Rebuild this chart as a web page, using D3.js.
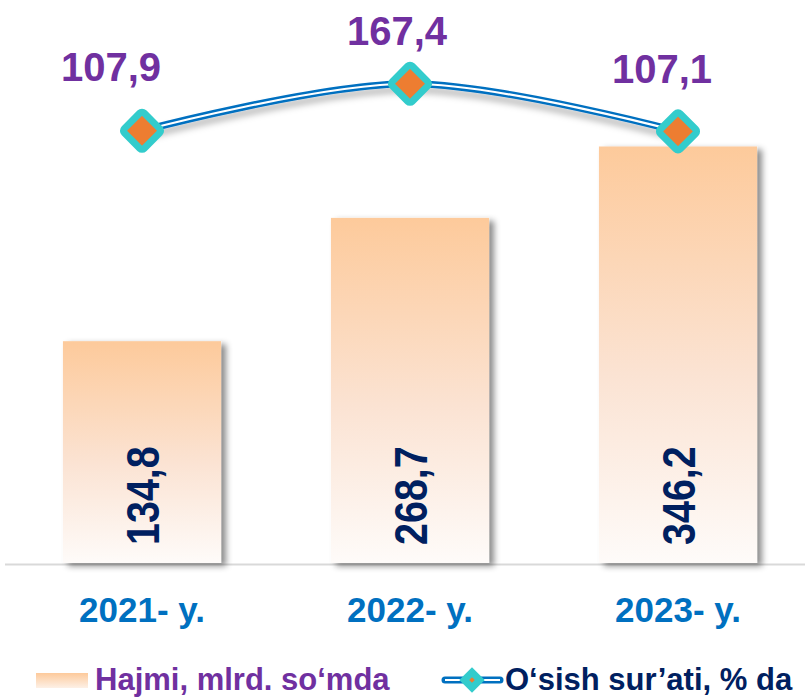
<!DOCTYPE html>
<html>
<head>
<meta charset="utf-8">
<script src="https://cdn.jsdelivr.net/npm/d3@7"></script>
<style>
  body { margin: 0; background: #fff; }
  svg { display: block; }
</style>
</head>
<body>
<script>
const categories = ['2021- y.', '2022- y.', '2023- y.']
const volume = [134.8, 268.7, 346.2]
const growth = [107.9, 167.4, 107.1]
const volumeName = 'Hajmi, mlrd. so‘mda'
const growthName = 'O‘sish sur’ati, % da'

const width = 805
const height = 698
const baseY = 563
const font = '"Liberation Sans", Arial, sans-serif'
// label nudges relative to the markers
const labelDx = [-31, -13, -16]
const labelDy = [-50, -39, -48]

const x = d3
  .scaleBand()
  .domain(categories)
  .range([8, 812])
  .paddingInner(0.41)
  .paddingOuter(0.205)

const y = d3
  .scaleLinear()
  .domain([-106, 350])
  .range([baseY, baseY - 420])

const y2 = d3
  .scaleLinear()
  .domain([0, 200])
  .range([216, 58])

const fmt = d => d3.format('.1f')(d).replace('.', ',')

const svg = d3
  .select('body')
  .append('svg')
  .attr('width', width)
  .attr('height', height)

const defs = svg.append('defs')
const grad = defs
  .append('linearGradient')
  .attr('id', 'barFill')
  .attr('x1', 0).attr('y1', 0).attr('x2', 0).attr('y2', 1)
grad.append('stop').attr('offset', '0%').attr('stop-color', '#fdca9b')
grad.append('stop').attr('offset', '55%').attr('stop-color', '#fbe3d3')
grad.append('stop').attr('offset', '100%').attr('stop-color', '#fefbf9')

const legGrad = defs
  .append('linearGradient')
  .attr('id', 'legFill')
  .attr('x1', 0).attr('y1', 0).attr('x2', 0).attr('y2', 1)
legGrad.append('stop').attr('offset', '0%').attr('stop-color', '#fdca9b')
legGrad.append('stop').attr('offset', '100%').attr('stop-color', '#fdf0e6')

const shadow = defs.append('filter').attr('id', 'shadow')
  .attr('x', '-20%').attr('y', '-20%').attr('width', '150%').attr('height', '150%')
shadow.append('feDropShadow')
  .attr('dx', 5).attr('dy', 3).attr('stdDeviation', 3)
  .attr('flood-color', '#000').attr('flood-opacity', 0.45)

const lineShadow = defs.append('filter').attr('id', 'lineShadow')
  .attr('x', '-10%').attr('y', '-50%').attr('width', '120%').attr('height', '250%')
lineShadow.append('feDropShadow')
  .attr('dx', 0).attr('dy', 6).attr('stdDeviation', 3)
  .attr('flood-color', '#000').attr('flood-opacity', 0.25)

// baseline
svg
  .append('line')
  .attr('x1', 5)
  .attr('x2', width)
  .attr('y1', baseY + 1.5)
  .attr('y2', baseY + 1.5)
  .attr('stroke', '#d9d9d9')
  .attr('stroke-width', 2)

// bars
svg
  .append('g')
  .selectAll('rect')
  .data(volume)
  .join('rect')
  .attr('x', (d, i) => x(categories[i]))
  .attr('y', d => y(d))
  .attr('width', x.bandwidth())
  .attr('height', d => y(y.domain()[0]) - y(d))
  .attr('fill', 'url(#barFill)')
  .attr('filter', 'url(#shadow)')

// bar labels, rotated and a bit condensed
svg
  .append('g')
  .selectAll('text')
  .data(volume)
  .join('text')
  .attr('transform', (d, i) =>
    `translate(${x(categories[i]) + x.bandwidth() / 2 + 17},${baseY - 18}) rotate(-90) scale(0.84,1)`)
  .attr('font-family', font)
  .attr('font-weight', 'bold')
  .attr('font-size', 47)
  .attr('fill', '#002060')
  .text(fmt)

// category labels
svg
  .append('g')
  .selectAll('text')
  .data(categories)
  .join('text')
  .attr('x', d => x(d) + x.bandwidth() / 2)
  .attr('y', 622)
  .attr('text-anchor', 'middle')
  .attr('font-family', font)
  .attr('font-weight', 'bold')
  .attr('font-size', 35)
  .attr('fill', '#0070c0')
  .text(d => d)

// growth line
const pts = growth.map((d, i) => [x(categories[i]) + x.bandwidth() / 2, y2(d)])
const line = d3.line().curve(d3.curveCatmullRom.alpha(0.5))

svg
  .append('path')
  .attr('d', line(pts))
  .attr('fill', 'none')
  .attr('stroke', '#0070c0')
  .attr('stroke-width', 7)
  .attr('filter', 'url(#lineShadow)')
svg
  .append('path')
  .attr('d', line(pts))
  .attr('fill', 'none')
  .attr('stroke', '#fff')
  .attr('stroke-width', 2.2)

// markers
const markers = svg.append('g')
  .selectAll('g')
  .data(pts)
  .join('g')
  .attr('transform', d => `translate(${d[0]},${d[1]}) rotate(45)`)
markers
  .append('rect')
  .attr('x', -14).attr('y', -14).attr('width', 28).attr('height', 28)
  .attr('rx', 3)
  .attr('fill', '#ed7d31')
  .attr('stroke', '#33cccc')
  .attr('stroke-width', 7)

// growth labels
svg
  .append('g')
  .selectAll('text')
  .data(growth)
  .join('text')
  .attr('x', (d, i) => pts[i][0] + labelDx[i])
  .attr('y', (d, i) => pts[i][1] + labelDy[i])
  .attr('text-anchor', 'middle')
  .attr('font-family', font)
  .attr('font-weight', 'bold')
  .attr('font-size', 40)
  .attr('fill', '#7030a0')
  .text(fmt)

// legend
const legend = svg.append('g')
legend
  .append('rect')
  .attr('x', 36).attr('y', 673).attr('width', 52).attr('height', 15)
  .attr('fill', 'url(#legFill)')
legend
  .append('text')
  .attr('x', 95).attr('y', 690)
  .attr('font-family', font)
  .attr('font-weight', 'bold')
  .attr('font-size', 31)
  .attr('fill', '#7030a0')
  .text(volumeName)

legend
  .append('line')
  .attr('x1', 445).attr('x2', 500).attr('y1', 680).attr('y2', 680)
  .attr('stroke', '#0070c0').attr('stroke-width', 7).attr('stroke-linecap', 'round')
legend
  .append('line')
  .attr('x1', 445).attr('x2', 500).attr('y1', 680).attr('y2', 680)
  .attr('stroke', '#fff').attr('stroke-width', 2.2)
legend
  .append('rect')
  .attr('x', -9).attr('y', -9).attr('width', 18).attr('height', 18)
  .attr('transform', 'translate(472,680) rotate(45)')
  .attr('fill', '#33cccc')
legend
  .append('rect')
  .attr('x', -2).attr('y', -2).attr('width', 4).attr('height', 4)
  .attr('transform', 'translate(472,680) rotate(45)')
  .attr('fill', '#ed7d31')
legend
  .append('text')
  .attr('x', 505).attr('y', 690)
  .attr('font-family', font)
  .attr('font-weight', 'bold')
  .attr('font-size', 31)
  .attr('fill', '#002060')
  .text(growthName)
</script>
</body>
</html>
